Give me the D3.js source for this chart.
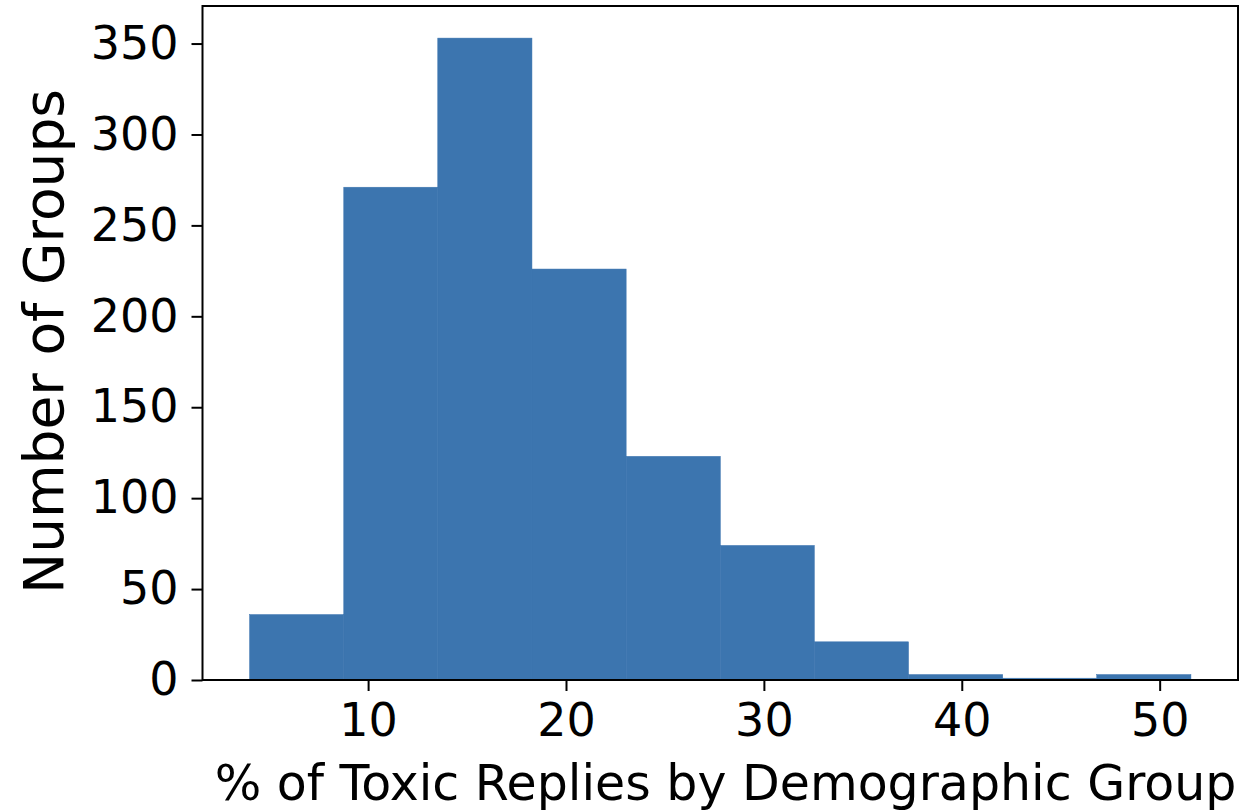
<!DOCTYPE html>
<html>
<head>
<meta charset="utf-8">
<script src="https://cdn.jsdelivr.net/npm/d3@7"></script>
<style>
  html, body { margin: 0; padding: 0; background: #fff; }
  svg { display: block; }
  text { font-family: "DejaVu Sans", sans-serif; fill: #000; }
</style>
</head>
<body>
<svg id="chart" width="1258" height="811"></svg>
<script>
// Histogram bin edges (% of toxic replies) and counts per bin
const binEdges = [4.01, 8.77, 13.52, 18.28, 23.04, 27.80, 32.55, 37.31, 42.07, 46.82, 51.58];
const binCounts = [36, 271, 353, 226, 123, 74, 21, 3, 1, 3];
const xTicks = [10, 20, 30, 40, 50];
const yTicks = [0, 50, 100, 150, 200, 250, 300, 350];
const xLabel = "% of Toxic Replies by Demographic Group";
const yLabel = "Number of Groups";

const svg = d3.select("#chart");
const plot = { left: 202.5, right: 1238, top: 6, bottom: 680 };

// 5% padding on each side of the data range, like matplotlib autoscaling
const xMin = binEdges[0], xMax = binEdges[binEdges.length - 1];
const pad = (xMax - xMin) * 0.05;
const x = d3.scaleLinear().domain([xMin - pad, xMax + pad]).range([plot.left, plot.right]);
const y = d3.scaleLinear().domain([0, d3.max(binCounts) * 1.05]).range([plot.bottom, plot.top]);

const bins = binCounts.map((c, i) => ({ x0: binEdges[i], x1: binEdges[i + 1], count: c }));

svg.append("g")
  .selectAll("rect")
  .data(bins)
  .join("rect")
  .attr("x", d => x(d.x0))
  .attr("y", d => y(d.count))
  .attr("width", d => x(d.x1) - x(d.x0))
  .attr("height", d => y(0) - y(d.count))
  .attr("fill", "#3c75af")
  .attr("stroke", "#3c75af")
  .attr("stroke-width", 0.5);

// Frame
svg.append("rect")
  .attr("x", plot.left).attr("y", plot.top)
  .attr("width", plot.right - plot.left).attr("height", plot.bottom - plot.top)
  .attr("fill", "none").attr("stroke", "#000").attr("stroke-width", 2);

// X axis
const xAxis = d3.axisBottom(x).tickValues(xTicks).tickFormat(d3.format("d"))
  .tickSize(11).tickPadding(12);
const gx = svg.append("g").attr("transform", `translate(0,${plot.bottom})`).call(xAxis);
gx.select(".domain").remove();
gx.selectAll(".tick line").attr("stroke", "#000").attr("stroke-width", 2);
gx.selectAll(".tick text").attr("font-size", 46).attr("font-family", "DejaVu Sans").attr("fill", "#000");

// Y axis
const yAxis = d3.axisLeft(y).tickValues(yTicks).tickFormat(d3.format("d"))
  .tickSize(11).tickPadding(13);
const gy = svg.append("g").attr("transform", `translate(${plot.left},0)`).call(yAxis);
gy.select(".domain").remove();
gy.selectAll(".tick line").attr("stroke", "#000").attr("stroke-width", 2);
gy.selectAll(".tick text").attr("font-size", 46).attr("font-family", "DejaVu Sans").attr("fill", "#000");

// Axis titles
svg.append("text")
  .attr("x", (208 + 1243) / 2)
  .attr("y", 800)
  .attr("text-anchor", "middle")
  .attr("font-size", 49)
  .text(xLabel);

svg.append("text")
  .attr("transform", `translate(63,${(90 + 593) / 2}) rotate(-90)`)
  .attr("text-anchor", "middle")
  .attr("font-size", 55)
  .text(yLabel);
</script>
</body>
</html>
